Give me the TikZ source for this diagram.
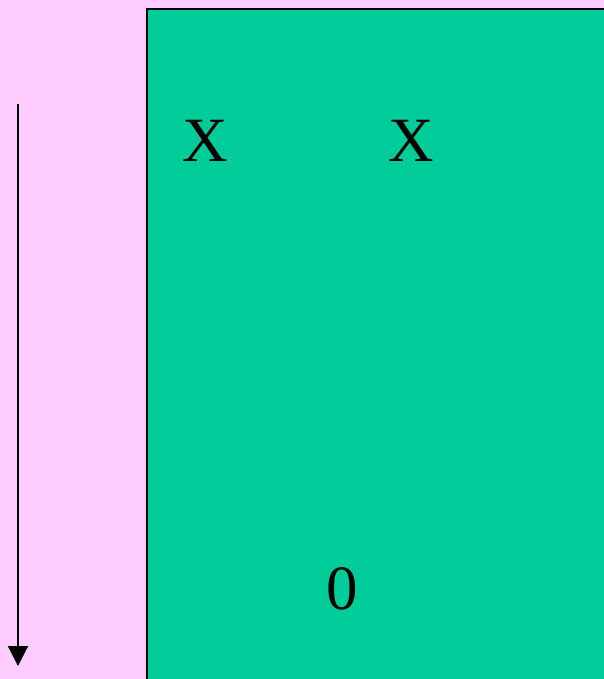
\documentclass[tikz,border=0pt]{standalone}
\usepackage{fontspec}
\setmainfont{Liberation Serif}
\usetikzlibrary{arrows.meta}
\definecolor{slidepink}{RGB}{255,204,255}
\definecolor{boardgreen}{RGB}{0,204,153}
\begin{document}
\begin{tikzpicture}[x=1pt,y=-1pt,
    every node/.style={font=\fontsize{63}{66}\selectfont, inner sep=0pt}]
  % background and bounding box
  \fill[slidepink] (0,0) rectangle (604,679);
  \useasboundingbox (0,0) rectangle (604,679);
  \begin{scope}
    \clip (0,0) rectangle (604,679);
    \draw[line width=2pt,fill=boardgreen] (147,9) rectangle (620,700);
  \end{scope}

  % entries
  \node (xleft)  at (205,141) {X};
  \node (xright) at (411,141) {X};
  \node (zero)   at (342,589) {0};

  % downward arrow
  \coordinate (top) at (18,104);
  \coordinate (bottom) at (18,666);
  \draw[line width=2pt,-{Triangle[length=20pt,width=20pt]}] (top) -- (bottom);
\end{tikzpicture}
\end{document}
